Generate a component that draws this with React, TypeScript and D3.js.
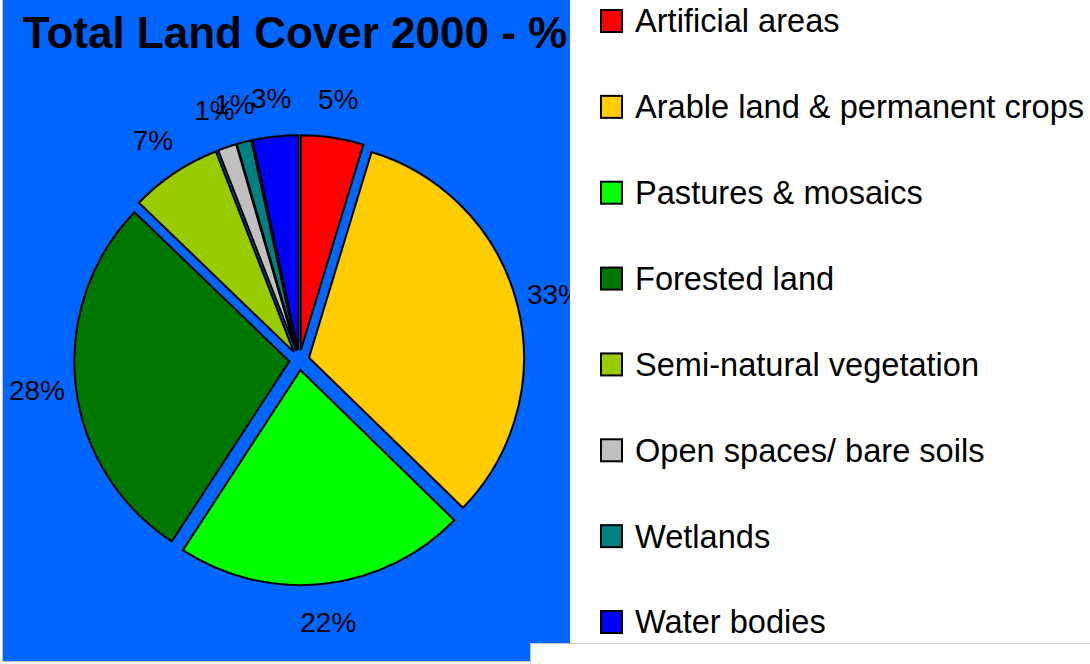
import React from 'react';
import * as d3 from 'd3';

// Land cover shares, % of total
const categories = [
   'Artificial areas',
   'Arable land & permanent crops',
   'Pastures & mosaics',
   'Forested land',
   'Semi-natural vegetation',
   'Open spaces/ bare soils',
   'Wetlands',
   'Water bodies',
];
const shares = [4.7, 32.6, 21.9, 28.0, 6.9, 1.4, 1.1, 3.4];
const colors = ['#FF0000', '#FFCC00', '#00FF00', '#007700', '#99CC00', '#C0C0C0', '#008080', '#0000FF'];

const title = 'Total Land Cover 2000 - %';

const W = 1090;
const H = 664;
const FONT = '"Liberation Sans", Arial, sans-serif';

const App: React.FC = () => {
   const cx = 299.3;
   const cy = 360.2;
   const radius = 215;
   const explode = 10; // every slice pulled out a bit, excel style
   const labelFont = 28;

   const pie = d3.pie<number>().sort(null).value((d) => d).startAngle(0).endAngle(2 * Math.PI);
   const arcs = pie(shares);
   const arc = d3.arc<d3.PieArcDatum<number>>().innerRadius(0).outerRadius(radius);
   const labelArc = d3
      .arc<d3.PieArcDatum<number>>()
      .innerRadius(explode + 254)
      .outerRadius(explode + 254);

   const offset = (a: d3.PieArcDatum<number>) => {
      const mid = (a.startAngle + a.endAngle) / 2;
      return [Math.sin(mid) * explode, -Math.cos(mid) * explode];
   };

   // label positions, then nudge crowded ones (counter-clockwise from the top) to the left
   const labels = arcs.map((a, i) => {
      const [x, y] = labelArc.centroid(a);
      const text = `${Math.round(shares[i])}%`;
      return { x: cx + x, y: cy + y, text, w: text.length * 0.55 * labelFont };
   });
   for (let i = labels.length - 2; i >= 0; i--) {
      const next = labels[i + 1];
      const cur = labels[i];
      if (Math.abs(cur.y - next.y) < 30 && cur.y < cy && next.x - cur.x >= 0) {
         const minGap = 0.65 * cur.w;
         if (next.x - cur.x < minGap) cur.x = next.x - minGap;
      }
   }

   const legendY = d3.scaleLinear().domain([0, categories.length - 1]).range([21, 622]);

   return (
      <div style={{ position: 'fixed', left: 0, top: 0, width: W, height: H, background: '#fff' }}>
         <svg width={W} height={H} style={{ display: 'block' }} fontFamily={FONT}>
            <rect x={0} y={0} width={W} height={H} fill="#fff" />
            <rect x={3} y={0} width={567} height={661} fill="#0066FF" />
            <line x1={2.5} y1={0} x2={2.5} y2={661} stroke="#c8c8c8" strokeWidth={1} />
            <line x1={2} y1={661.5} x2={W} y2={661.5} stroke="#c8c8c8" strokeWidth={1} />

            <text x={295} y={48} textAnchor="middle" fontSize={44} fontWeight="bold" fill="#000">
               {title}
            </text>

            <g transform={`translate(${cx},${cy})`}>
               {arcs.map((a, i) => {
                  const [dx, dy] = offset(a);
                  return (
                     <path
                        key={categories[i]}
                        d={arc(a) ?? ''}
                        transform={`translate(${dx},${dy})`}
                        fill={colors[i]}
                        stroke="#000"
                        strokeWidth={2}
                        strokeLinejoin="miter"
                     />
                  );
               })}
            </g>

            {labels.map((l, i) => (
               <text key={i} x={l.x} y={l.y} dy="0.35em" textAnchor="middle" fontSize={labelFont} fill="#000">
                  {l.text}
               </text>
            ))}

            {/* legend panel, covers the overflowing label on the right */}
            <rect x={570} y={0} width={W - 570} height={643} fill="#fff" />
            <rect x={530.5} y={643.5} width={W - 530} height={30} fill="#fff" stroke="#c8c8c8" strokeWidth={1} />
            {categories.map((c, i) => (
               <g key={c} transform={`translate(0,${legendY(i)})`}>
                  <rect x={601} y={-11} width={21} height={22} fill={colors[i]} stroke="#000" strokeWidth={2} />
                  <text x={635} y={0} dy="0.35em" fontSize={32.6} fill="#000">
                     {c}
                  </text>
               </g>
            ))}
         </svg>
      </div>
   );
};

export default App;
